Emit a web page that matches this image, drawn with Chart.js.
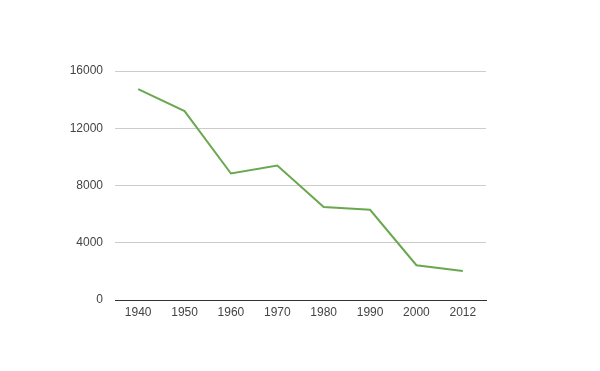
<!DOCTYPE html>
<html>
<head>
<meta charset="utf-8">
<script src="https://cdn.jsdelivr.net/npm/chart.js@4/dist/chart.umd.min.js"></script>
<style>
  html, body { margin: 0; padding: 0; background: #fff; }
  #wrap { width: 600px; height: 371px; }
</style>
</head>
<body>
<div id="wrap"><canvas id="chart" width="600" height="371"></canvas></div>
<script>
// data
const years = ['1940', '1950', '1960', '1970', '1980', '1990', '2000', '2012'];
const values = [14730, 13200, 8840, 9400, 6500, 6300, 2430, 2020];
const yTicks = [0, 4000, 8000, 12000, 16000];

Chart.defaults.font.family = "'Liberation Sans', Arial, sans-serif";
Chart.defaults.font.size = 12;
Chart.defaults.color = '#444';

new Chart(document.getElementById('chart').getContext('2d'), {
  type: 'line',
  data: {
    labels: years,
    datasets: [{
      data: values,
      borderColor: '#6aa84f',
      borderWidth: 2,
      pointRadius: 0,
      tension: 0,
      fill: false
    }]
  },
  options: {
    responsive: false,
    animation: false,
    layout: { padding: { top: 71, right: 114, left: 0, bottom: 0 } },
    plugins: { legend: { display: false }, tooltip: { enabled: false } },
    scales: {
      x: {
        offset: true,
        grid: { display: false, drawTicks: false },
        border: { display: true, color: '#333', width: 1 },
        ticks: { padding: 5, maxRotation: 0 },
        afterFit: s => { s.height = 71; }
      },
      y: {
        min: 0,
        max: 16000,
        afterBuildTicks: s => { s.ticks = yTicks.map(v => ({ value: v })); },
        grid: {
          drawTicks: false,
          color: c => (c.tick && c.tick.value === 0) ? '#333' : '#ccc'
        },
        border: { display: false },
        ticks: { padding: 12, callback: v => String(v) },
        afterFit: s => { s.width = 115; }
      }
    }
  }
});
</script>
</body>
</html>
